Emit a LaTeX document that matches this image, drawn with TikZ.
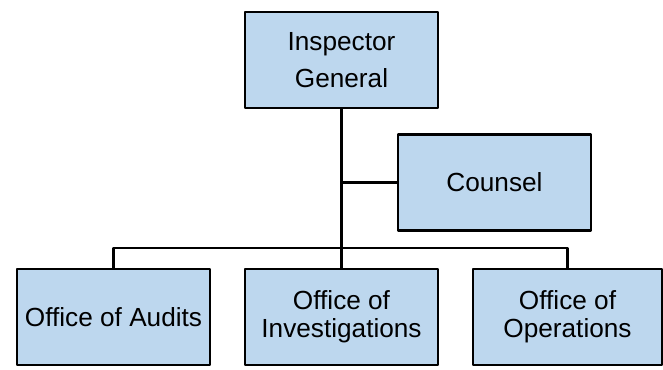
\documentclass[tikz,border=0pt]{standalone}
\usepackage{fontspec}
\setmainfont{Liberation Sans}
\usepackage{tikz}
\definecolor{boxblue}{HTML}{BDD7EE}

\begin{document}
\begin{tikzpicture}[line cap=round,line join=round,x=0.5pt,y=-0.5pt,
  unit/.style={draw=black,fill=boxblue,line width=1.1pt,minimum width=96.5pt,
    minimum height=48pt,inner sep=0pt,align=center,
    font=\fontsize{13.1}{13.8}\selectfont},
  link/.style={draw=black,line width=1.1pt}]
\useasboundingbox (0,0) rectangle (663,369);

\node[unit] (ig) at (341.5,60) {Inspector\\[4.6pt]General};
\node[unit] (counsel) at (494.5,182.5) {Counsel};
\node[unit] (audits) at (113.5,317) {Office of Audits};
\node[unit] (inv) at (341.5,317) {Office of\\Investigations};
\node[unit,minimum width=94.5pt] (ops) at (567.5,317) {Office of\\Operations};

\draw[link] (ig.south) -- (inv.north);
\coordinate (jn) at (ig.south |- counsel.west);
\draw[link] (jn) -- (counsel.west);
\draw[link] (audits.north) -- ++(0,-20) -| (ops.north);
\end{tikzpicture}
\end{document}
